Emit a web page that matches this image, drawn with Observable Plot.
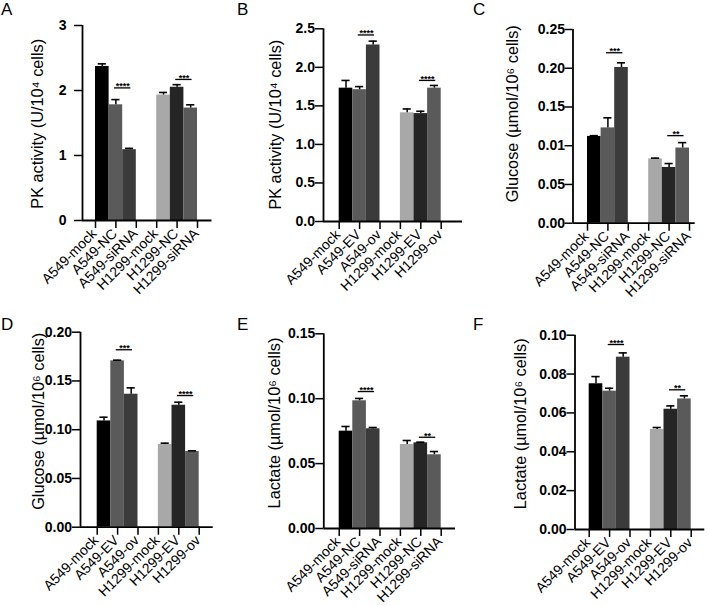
<!DOCTYPE html>
<html><head><meta charset="utf-8">
<script src="https://cdn.jsdelivr.net/npm/d3@7"></script>
<script src="https://cdn.jsdelivr.net/npm/@observablehq/plot@0.6"></script>
<style>
body{margin:0;background:#fff;}
#fig{position:relative;width:708px;height:606px;overflow:hidden;background:#fff;font-family:"Liberation Sans",Arial,Helvetica,sans-serif;}
.panel{position:absolute;width:236px;height:303px;}
.letter{position:absolute;font-size:17px;line-height:17px;color:#000;font-family:"Liberation Sans",Arial,sans-serif;}
</style></head><body><div id="fig"></div>
<script>
// ---- categories ----
const catsKD = ["A549-mock","A549-NC","A549-siRNA","H1299-mock","H1299-NC","H1299-siRNA"];
const catsOV = ["A549-mock","A549-EV","A549-ov","H1299-mock","H1299-EV","H1299-ov"];
const barColors = ["#000000","#5a5a5a","#3b3b3b","#a8a8a8","#252525","#5a5a5a"];

// ---- values (mean) and upper error (mean + SD) ----
const pkKD      = [2.37, 1.78, 1.09, 1.93, 2.05, 1.73];
const pkKDErr   = [2.41, 1.86, 1.11, 1.97, 2.09, 1.78];
const pkOV      = [1.73, 1.71, 2.29, 1.41, 1.40, 1.73];
const pkOVErr   = [1.83, 1.75, 2.34, 1.46, 1.43, 1.765];
const gluKD     = [0.112, 0.123, 0.201, 0.083, 0.072, 0.097];
const gluKDErr  = [0.113, 0.136, 0.207, 0.084, 0.077, 0.104];
const gluOV     = [0.109, 0.1706, 0.1364, 0.0848, 0.1251, 0.0776];
const gluOVErr  = [0.1128, 0.1713, 0.1429, 0.0862, 0.1282, 0.0783];
const lacKD     = [0.0750, 0.0984, 0.0768, 0.0647, 0.0660, 0.0568];
const lacKDErr  = [0.0786, 0.1002, 0.0778, 0.0678, 0.0665, 0.0593];
const lacOV     = [0.0750, 0.0712, 0.0887, 0.0515, 0.0619, 0.0672];
const lacOVErr  = [0.0787, 0.0727, 0.0909, 0.0525, 0.0636, 0.0688];

// ---- y ticks & labels ----
const ticksA = [0, 1, 2, 3];               const labelsA = ["0","1","2","3"];
const ticksB = [0, 0.5, 1, 1.5, 2, 2.5];   const labelsB = ["0.0","0.5","1.0","1.5","2.0","2.5"];
const ticksC = [0, 0.05, 0.10, 0.15, 0.20, 0.25]; const labelsC = ["0.00","0.05","0.01","0.15","0.20","0.25"];
const ticksD = [0, 0.05, 0.10, 0.15, 0.20]; const labelsD = ["0.00","0.05","0.10","0.15","0.20"];
const ticksE = [0, 0.05, 0.10, 0.15];       const labelsE = ["0.00","0.05","0.10","0.15"];
const ticksF = [0, 0.02, 0.04, 0.06, 0.08, 0.10]; const labelsF = ["0.00","0.02","0.04","0.06","0.08","0.10"];

// ---- significance brackets: [from index, to index, level, stars] ----
const sigA = [[1, 2, 2.04, "****"], [4, 5, 2.17, "***"]];
const sigB = [[1, 2, 2.42, "****"], [4, 5, 1.83, "****"]];
const sigC = [[1, 2, 0.220, "***"], [4, 5, 0.113, "**"]];
const sigD = [[1, 2, 0.182, "***"], [4, 5, 0.135, "****"]];
const sigE = [[1, 2, 0.1055, "****"], [4, 5, 0.0703, "**"]];
const sigF = [[1, 2, 0.0952, "****"], [4, 5, 0.0719, "**"]];

const titlePK  = "PK activity (U/10\u2074 cells)";
const titleGlu = "Glucose (\u00b5mol/10\u2076 cells)";
const titleLac = "Lactate (\u00b5mol/10\u2076 cells)";

// ---- layout (pixels inside each 236x303 panel) ----
const panels = [
  {letter:"A", col:0, row:0, cats:catsKD, v:pkKD,  e:pkKDErr,  yMax:3,    ticks:ticksA, labels:labelsA, sig:sigA, title:titlePK,
   ml:82, mt:25, mb:83, barStart:95, axisEnd:211.5, tickPad:8, titleX:42, titleCY:123.3},
  {letter:"B", col:1, row:0, cats:catsOV, v:pkOV,  e:pkOVErr,  yMax:2.5,  ticks:ticksB, labels:labelsB, sig:sigB, title:titlePK,
   ml:87, mt:28.3, mb:82, barStart:102.7, axisEnd:226, tickPad:0.5, titleX:44, titleCY:124.2},
  {letter:"C", col:2, row:0, cats:catsKD, v:gluKD, e:gluKDErr, yMax:0.25, ticks:ticksC, labels:labelsC, sig:sigC, title:titleGlu,
   ml:100.5, mt:29, mb:80.3, barStart:115, axisEnd:222.7, tickPad:0, titleX:45.5, titleCY:113.3},
  {letter:"D", col:0, row:1, cats:catsOV, v:gluOV, e:gluOVErr, yMax:0.20, ticks:ticksD, labels:labelsD, sig:sigD, title:titleGlu,
   ml:80, mt:28.7, mb:79.3, barStart:96.7, axisEnd:212.7, tickPad:0.5, titleX:43, titleCY:117.8},
  {letter:"E", col:1, row:1, cats:catsKD, v:lacKD, e:lacKDErr, yMax:0.15, ticks:ticksE, labels:labelsE, sig:sigE, title:titleLac,
   ml:87.3, mt:30.3, mb:78, barStart:102.7, axisEnd:219, tickPad:0.5, titleX:43, titleCY:119.5},
  {letter:"F", col:2, row:1, cats:catsOV, v:lacOV, e:lacOVErr, yMax:0.10, ticks:ticksF, labels:labelsF, sig:sigF, title:titleLac,
   ml:102.5, mt:31.7, mb:77, barStart:116.7, axisEnd:232.3, tickPad:0.5, titleX:53, titleCY:120.3}
];

const W = 236, H = 303, U = 13.6, TICK = 8;
const FONT = "'Liberation Sans', Arial, Helvetica, sans-serif";
const pos = i => (i < 3 ? i : i + 1.5);

const fig = document.getElementById("fig");

for (const p of panels) {
  const xMin = -(p.barStart - p.ml) / U;
  const xMax = xMin + (p.axisEnd - p.ml) / U;
  const mr = W - p.axisEnd;
  const rows = p.cats.map((c, i) => ({cat: c, v: p.v[i], e: p.e[i], x1: pos(i), x2: pos(i) + 1, xc: pos(i) + 0.5}));
  const sig = p.sig.map(([a, b, y, s]) => ({x1: pos(a) + 0.4, x2: pos(b) + 0.6, xm: (pos(a) + pos(b)) / 2 + 0.5, y, s}));
  const frameCY = (p.mt + (H - p.mb)) / 2;
  const xTicks = p.cats.map((c, i) => ({x: i * 1.5, label: c}));
  const yTicks = p.ticks.map((t, i) => ({y: t, label: p.labels[i]}));

  const chart = Plot.plot({
    width: W, height: H,
    marginLeft: p.ml, marginRight: mr, marginTop: p.mt, marginBottom: p.mb,
    style: {fontFamily: FONT, background: "transparent", color: "#000", overflow: "visible"},
    x: {type: "linear", domain: [xMin, xMax]},
    y: {domain: [0, p.yMax]},
    color: {domain: p.cats, range: barColors},
    marks: [
      Plot.rect(rows, {x1: "x1", x2: "x2", y1: 0, y2: "v", fill: "cat"}),
      Plot.ruleX(rows, {x: "xc", y1: "v", y2: "e", stroke: "#000", strokeWidth: 1.5}),
      Plot.ruleY(rows, {x1: d => d.xc - 0.3, x2: d => d.xc + 0.3, y: "e", stroke: "#000", strokeWidth: 1.6}),
      Plot.ruleY([0], {stroke: "#000", strokeWidth: 1.8}),
      Plot.ruleX([xMin], {y1: 0, y2: p.yMax, stroke: "#000", strokeWidth: 1.8}),
      // tick marks (their labels are drawn as text marks below)
      Plot.axisY({ticks: p.ticks, tickFormat: () => "", tickSize: TICK, label: null, strokeWidth: 1.5, stroke: "#000"}),
      Plot.axisX({ticks: xTicks.map(d => d.x), tickFormat: () => "", tickSize: TICK, label: null, strokeWidth: 1.5, stroke: "#000"}),
      Plot.text(yTicks, {y: "y", text: "label", frameAnchor: "left", dx: -(TICK + p.tickPad), textAnchor: "end",
        fontSize: 14, fontWeight: "bold", fill: "#000"}),
      Plot.text(xTicks, {x: "x", text: "label", frameAnchor: "bottom", dy: TICK + 6, dx: 2, rotate: -45, textAnchor: "end",
        fontSize: 14, fill: "#000"}),
      Plot.ruleY(sig, {x1: "x1", x2: "x2", y: "y", stroke: "#000", strokeWidth: 1.3}),
      Plot.text(sig, {x: "xm", y: "y", text: "s", fontSize: 9, fontWeight: "bold", lineAnchor: "bottom", dy: 1.5, fill: "#000"}),
      Plot.text([p.title], {frameAnchor: "left", text: d => d, rotate: -90, fontSize: 16.3, textAnchor: "middle", lineAnchor: "bottom",
        dx: p.titleX - p.ml, dy: p.titleCY - frameCY, fill: "#000"})
    ]
  });

  const div = document.createElement("div");
  div.className = "panel";
  div.style.left = (p.col * W) + "px";
  div.style.top = (p.row * H) + "px";
  div.appendChild(chart);
  const lt = document.createElement("span");
  lt.className = "letter";
  lt.textContent = p.letter;
  lt.style.left = "1px";
  lt.style.top = (p.row === 0 ? 0.8 : 13.1) + "px";
  div.appendChild(lt);
  fig.appendChild(div);
}
</script>
</body></html>
